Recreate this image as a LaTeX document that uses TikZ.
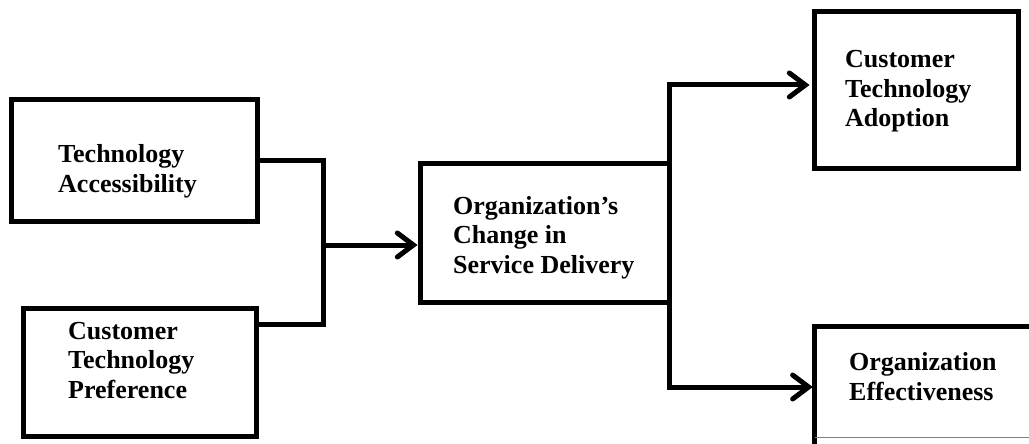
\documentclass[tikz,border=0pt]{standalone}
\usepackage{fontspec}
\setmainfont{Liberation Serif}
\usetikzlibrary{arrows.meta}
\begin{document}
\begin{tikzpicture}[x=1pt,y=-1pt,
  box/.style={draw, line width=5pt, rectangle, inner sep=0pt},
  conn/.style={line width=5pt},
  arr/.style={conn, -{Straight Barb[length=16pt,width=24pt,line cap=round]}},
  lbl/.style={font=\fontsize{26}{29.5}\selectfont\bfseries, align=left, anchor=base west, inner sep=0pt}]
\useasboundingbox[fill=white] (0,0) rectangle (1029,444);
\clip (0,0) rectangle (1029,444);
% boxes
\node[box, minimum width=246pt, minimum height=121pt] (ta) at (134,160.5) {};
\node[box, minimum width=233pt, minimum height=128pt] (tp) at (139.5,372) {};
\node[box, minimum width=249pt, minimum height=139pt] (mid) at (544.5,232.5) {};
\node[box, minimum width=204pt, minimum height=156pt] (cta) at (916,90) {};
\node[draw=none, minimum width=225pt, minimum height=110pt, inner sep=0pt] (oe) at (927.5,382) {};
\draw[line width=5pt] (oe.north east) -- (oe.north west) -- ([yshift=-10pt]oe.south west);
\draw[gray, line width=0.8pt] (oe.south west) -- (oe.south east);
% texts
\node[lbl] (ta-t) at (58,192) {Technology\\Accessibility};
\node[lbl] (tp-t) at (68,398) {Customer\\Technology\\Preference};
\node[lbl] (mid-t) at (453,273) {Organization’s\\Change in\\Service Delivery};
\node[lbl] (cta-t) at (845,127) {Customer\\Technology\\Adoption};
\node[lbl] (oe-t) at (849,400) {Organization\\Effectiveness};
% connectors
\coordinate (jl) at (323,245);
\coordinate (jr1) at (669,85);
\coordinate (jr2) at (669,387);
\draw[conn] (ta.east) -| (jl) |- ([yshift=48pt]tp.east);
\draw[arr] (jl) -- (jl -| mid.west);
\draw[conn, line cap=rect] (jr1) -- (jr2);
\draw[arr] (jr1) -- ([xshift=-2pt]jr1 -| cta.west);
\draw[arr] (jr2) -- ([xshift=-2pt]jr2 -| oe.west);
\end{tikzpicture}
\end{document}
